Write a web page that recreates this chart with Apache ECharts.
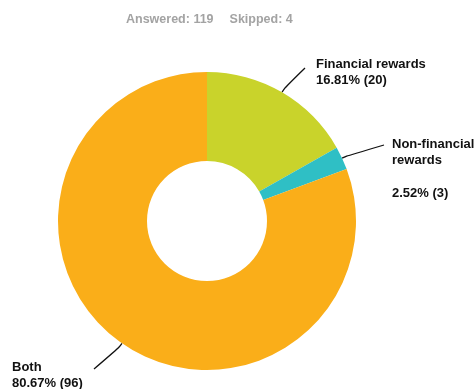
<!DOCTYPE html>
<html>
<head>
<meta charset="utf-8">
<script src="https://cdn.jsdelivr.net/npm/echarts@6/dist/echarts.min.js"></script>
<style>
  html, body { margin: 0; padding: 0; background: #fff; }
  #chart { width: 475px; height: 389px; }
</style>
</head>
<body>
<div id="chart"></div>
<script>
// Survey response counts
const categories = ['Financial rewards', 'Non-financial rewards', 'Both'];
const counts = [20, 3, 96];
const answered = 119;
const skipped = 4;

const colors = ['#C9D32B', '#2FBFC5', '#FAAE19'];

// Label block placement (top-left corner) and where each leader line ends,
// relative to that corner
const labelSpots = [
  { x: 316, y: 56, endDx: -11, endDy: 12 },
  { x: 392, y: 136, endDx: -8, endDy: 9 },
  { x: 12, y: 359, endDx: 82, endDy: 10 }
];

const FONT = '"Liberation Sans", Arial, Helvetica, sans-serif';

const chart = echarts.init(document.getElementById('chart'), null, { renderer: 'canvas' });

chart.setOption({
  backgroundColor: '#ffffff',
  animation: false,
  title: {
    text: '{a|Answered: ' + answered + '}{g|}{a|Skipped: ' + skipped + '}',
    left: 121,
    top: 6,
    textStyle: {
      rich: {
        a: {
          fontFamily: FONT,
          fontSize: 12.5,
          fontWeight: 'bold',
          color: '#a3a3a3'
        },
        g: { width: 16 }
      }
    }
  },
  series: [{
    type: 'pie',
    center: [207, 221],
    radius: [60, 149],
    startAngle: 90,
    clockwise: true,
    avoidLabelOverlap: false,
    data: categories.map((name, i) => ({
      name: name,
      value: counts[i],
      itemStyle: { color: colors[i] }
    })),
    label: {
      show: true,
      position: 'outside',
      fontFamily: FONT,
      fontSize: 13,
      fontWeight: 'bold',
      color: '#111',
      lineHeight: 16,
      formatter: function (p) {
        const pct = p.percent.toFixed(2) + '% (' + p.value + ')';
        if (p.dataIndex === 1) {
          return 'Non-financial\nrewards\n{gap|}\n' + pct;
        }
        return p.name + '\n' + pct;
      },
      rich: {
        gap: { lineHeight: 17 }
      }
    },
    labelLine: {
      show: true,
      smooth: 0.5,
      lineStyle: { color: '#111', width: 1.3 }
    },
    labelLayout: function (params) {
      const s = labelSpots[params.dataIndex];
      const out = { x: s.x, y: s.y, align: 'left', verticalAlign: 'top' };
      const pts = params.labelLinePoints;
      if (pts && pts.length) {
        const start = pts[0];
        const end = [s.x + s.endDx, s.y + s.endDy];
        // gentle bend: leave the ring along the radial direction
        const next = pts[1] || start;
        const dx = next[0] - start[0], dy = next[1] - start[1];
        const len = Math.hypot(dx, dy) || 1;
        const mid = [start[0] + dx / len * 5, start[1] + dy / len * 5];
        out.labelLinePoints = [start, mid, end];
      }
      return out;
    },
    emphasis: { disabled: true }
  }]
});
</script>
</body>
</html>
